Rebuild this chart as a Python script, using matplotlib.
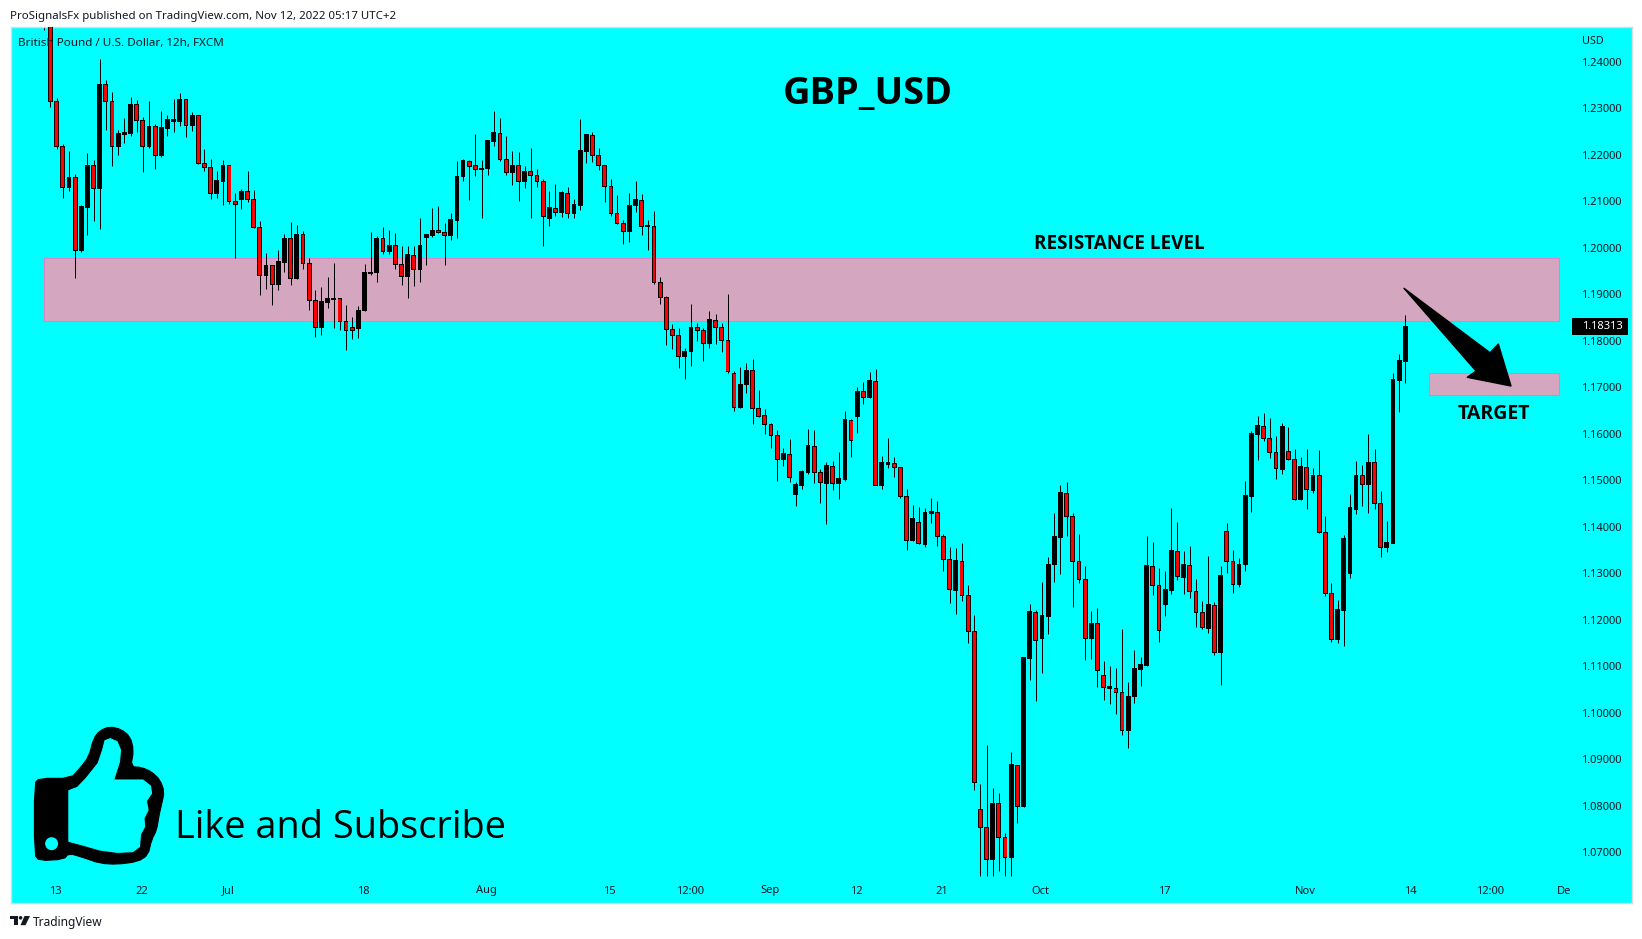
import numpy as np
import matplotlib
matplotlib.use('Agg')
import matplotlib.pyplot as plt
from matplotlib.patches import Polygon, Rectangle, Ellipse

# 12h candles
opens = [1.2600,1.2480,1.2315,1.2218,1.2129,1.2152,1.1994,1.2086,1.2176,1.2127,
1.2352,1.2315,1.2218,1.2243,1.2245,1.2309,1.2274,1.2217,1.2260,1.2198,
1.2256,1.2271,1.2271,1.2318,1.2262,1.2284,1.2182,1.2173,1.2117,1.2142,
1.2176,1.2100,1.2104,1.2122,1.2104,1.2044,1.1940,1.1961,1.1921,1.1968,
1.2021,1.1934,1.2028,1.1967,1.1887,1.1828,1.1882,1.1889,1.1890,1.1842,
1.1828,1.1826,1.1866,1.1944,1.1947,1.2020,1.1991,1.2005,1.1965,1.1938,
1.1984,1.1953,1.2022,1.2026,1.2038,1.2033,1.2026,1.2058,1.2153,1.2186,
1.2176,1.2168,1.2170,1.2228,1.2246,1.2190,1.2162,1.2177,1.2142,1.2165,
1.2156,1.2143,1.2064,1.2085,1.2075,1.2117,1.2073,1.2092,1.2208,1.2242,
1.2199,1.2177,1.2132,1.2074,1.2053,1.2034,1.2090,1.2102,1.2045,1.2046,
1.1926,1.1894,1.1825,1.1812,1.1766,1.1776,1.1829,1.1823,1.1794,1.1844,
1.1829,1.1801,1.1730,1.1656,1.1705,1.1737,1.1655,1.1640,1.1620,1.1597,
1.1544,1.1556,1.1469,1.1488,1.1516,1.1573,1.1517,1.1494,1.1530,1.1494,
1.1501,1.1629,1.1638,1.1691,1.1677,1.1713,1.1488,1.1535,1.1537,1.1528,
1.1466,1.1370,1.1410,1.1363,1.1428,1.1431,1.1379,1.1330,1.1264,1.1326,
1.1253,1.1175,1.0793,1.0754,1.0684,1.0806,1.0732,1.0689,1.0887,1.0798,
1.1116,1.1216,1.1159,1.1208,1.1318,1.1378,1.1472,1.1423,1.1326,1.1287,
1.1159,1.1192,1.1081,1.1052,1.1053,1.1044,1.0962,1.1034,1.1094,1.1101,
1.1315,1.1274,1.1232,1.1264,1.1347,1.1292,1.1317,1.1261,1.1216,1.1182,
1.1231,1.1129,1.1390,1.1326,1.1275,1.1318,1.1466,1.1598,1.1616,1.1590,
1.1560,1.1524,1.1562,1.1545,1.1458,1.1528,1.1479,1.1511,1.1388,1.1257,
1.1157,1.1221,1.1299,1.1438,1.1511,1.1490,1.1539,1.1451,1.1355,1.1365,
1.1714,1.1755]

highs = [1.2650,1.2600,1.2322,1.2223,1.2208,1.2159,1.2091,1.2203,1.2189,1.2405,
1.2361,1.2334,1.2253,1.2280,1.2324,1.2318,1.2281,1.2315,1.2266,1.2294,
1.2286,1.2320,1.2332,1.2319,1.2291,1.2286,1.2213,1.2191,1.2165,1.2189,
1.2178,1.2117,1.2126,1.2165,1.2124,1.2058,1.1989,1.1963,1.1995,1.2030,
1.2056,1.2049,1.2036,1.1978,1.1909,1.1916,1.1937,1.1967,1.1893,1.1877,
1.1851,1.1875,1.1965,1.2033,1.2025,1.2045,1.2038,1.2031,1.2004,1.2004,
1.2004,1.2064,1.2030,1.2086,1.2090,1.2053,1.2075,1.2187,1.2191,1.2189,
1.2245,1.2189,1.2230,1.2294,1.2279,1.2240,1.2208,1.2206,1.2176,1.2215,
1.2170,1.2148,1.2122,1.2137,1.2122,1.2131,1.2105,1.2277,1.2245,1.2249,
1.2215,1.2178,1.2148,1.2114,1.2060,1.2118,1.2144,1.2116,1.2060,1.2079,
1.1937,1.1896,1.1836,1.1828,1.1785,1.1879,1.1838,1.1827,1.1864,1.1858,
1.1838,1.1901,1.1735,1.1744,1.1752,1.1761,1.1694,1.1653,1.1623,1.1608,
1.1570,1.1589,1.1496,1.1522,1.1610,1.1608,1.1524,1.1539,1.1542,1.1561,
1.1649,1.1632,1.1701,1.1711,1.1733,1.1739,1.1552,1.1591,1.1550,1.1529,
1.1481,1.1447,1.1443,1.1441,1.1462,1.1456,1.1385,1.1357,1.1355,1.1365,
1.1275,1.1210,1.0847,1.0931,1.0838,1.0828,1.0742,1.0916,1.0888,1.1120,
1.1234,1.1221,1.1281,1.1335,1.1430,1.1490,1.1496,1.1430,1.1385,1.1316,
1.1219,1.1225,1.1112,1.1101,1.1096,1.1180,1.1066,1.1135,1.1120,1.1380,
1.1367,1.1311,1.1305,1.1440,1.1410,1.1348,1.1359,1.1288,1.1241,1.1337,
1.1238,1.1316,1.1408,1.1350,1.1333,1.1499,1.1605,1.1638,1.1645,1.1634,
1.1595,1.1623,1.1615,1.1567,1.1550,1.1567,1.1526,1.1565,1.1423,1.1279,
1.1243,1.1382,1.1471,1.1542,1.1533,1.1600,1.1567,1.1477,1.1413,1.1731,
1.1772,1.1855]

lows = [1.2469,1.2302,1.2213,1.2108,1.2123,1.1934,1.1990,1.2028,1.2058,1.2041,
1.2253,1.2175,1.2200,1.2225,1.2241,1.2249,1.2162,1.2215,1.2170,1.2195,
1.2241,1.2249,1.2261,1.2239,1.2252,1.2181,1.2165,1.2105,1.2108,1.2092,
1.2095,1.1977,1.2084,1.2098,1.2043,1.1899,1.1912,1.1876,1.1909,1.1949,
1.1920,1.1932,1.1954,1.1866,1.1808,1.1813,1.1871,1.1827,1.1823,1.1780,
1.1804,1.1807,1.1863,1.1942,1.1927,1.1987,1.1987,1.1955,1.1920,1.1891,
1.1917,1.1927,1.1962,1.2023,1.2031,1.1964,1.2017,1.2021,1.2144,1.2103,
1.2154,1.2063,1.2157,1.2219,1.2187,1.2157,1.2135,1.2101,1.2129,1.2064,
1.2131,1.2004,1.2047,1.2068,1.2066,1.2064,1.2064,1.2081,1.2182,1.2185,
1.2167,1.2099,1.2068,1.2051,1.2008,1.2013,1.2077,1.2028,1.1995,1.1922,
1.1879,1.1791,1.1782,1.1742,1.1718,1.1746,1.1800,1.1757,1.1785,1.1793,
1.1776,1.1731,1.1650,1.1656,1.1688,1.1621,1.1636,1.1600,1.1570,1.1499,
1.1531,1.1496,1.1445,1.1481,1.1514,1.1494,1.1451,1.1406,1.1479,1.1460,
1.1499,1.1550,1.1602,1.1664,1.1677,1.1489,1.1481,1.1527,1.1507,1.1462,
1.1350,1.1370,1.1364,1.1357,1.1408,1.1359,1.1305,1.1236,1.1213,1.1241,
1.1150,1.0834,1.0649,1.0649,1.0649,1.0660,1.0649,1.0649,1.0763,1.0798,
1.1071,1.1026,1.1086,1.1170,1.1281,1.1299,1.1380,1.1228,1.1279,1.1114,
1.1116,1.1056,1.1028,1.1019,1.0998,1.0952,1.0924,1.1021,1.1058,1.1101,
1.1253,1.1152,1.1208,1.1256,1.1286,1.1256,1.1247,1.1185,1.1180,1.1172,
1.1124,1.1060,1.1301,1.1258,1.1271,1.1305,1.1431,1.1544,1.1585,1.1548,
1.1503,1.1514,1.1544,1.1458,1.1458,1.1438,1.1473,1.1387,1.1251,1.1152,
1.1150,1.1144,1.1290,1.1428,1.1445,1.1430,1.1438,1.1335,1.1346,1.1365,
1.1647,1.1709]

closes = [1.2478,1.2315,1.2218,1.2129,1.2152,1.1994,1.2088,1.2176,1.2127,1.2352,
1.2314,1.2218,1.2245,1.2247,1.2309,1.2273,1.2218,1.2260,1.2198,1.2258,
1.2275,1.2275,1.2318,1.2263,1.2284,1.2181,1.2172,1.2117,1.2144,1.2176,
1.2099,1.2094,1.2122,1.2104,1.2043,1.1940,1.1961,1.1921,1.1970,1.2021,
1.1934,1.2028,1.1966,1.1886,1.1828,1.1884,1.1890,1.1890,1.1841,1.1822,
1.1822,1.1866,1.1946,1.1947,1.2021,1.1992,1.2006,1.1964,1.1938,1.1985,
1.1953,1.2004,1.2028,1.2038,1.2033,1.2026,1.2060,1.2154,1.2187,1.2175,
1.2168,1.2171,1.2230,1.2247,1.2190,1.2162,1.2178,1.2142,1.2165,1.2155,
1.2142,1.2067,1.2086,1.2076,1.2118,1.2073,1.2094,1.2210,1.2243,1.2198,
1.2177,1.2132,1.2073,1.2052,1.2035,1.2092,1.2103,1.2046,1.2047,1.1925,
1.1893,1.1824,1.1811,1.1766,1.1777,1.1829,1.1822,1.1794,1.1845,1.1828,
1.1800,1.1734,1.1656,1.1707,1.1737,1.1654,1.1638,1.1620,1.1596,1.1544,
1.1557,1.1506,1.1490,1.1518,1.1574,1.1516,1.1495,1.1531,1.1494,1.1503,
1.1630,1.1585,1.1692,1.1678,1.1714,1.1489,1.1539,1.1539,1.1527,1.1465,
1.1370,1.1417,1.1364,1.1430,1.1432,1.1379,1.1329,1.1265,1.1327,1.1252,
1.1175,1.0850,1.0753,1.0684,1.0806,1.0732,1.0689,1.0888,1.0798,1.1118,
1.1217,1.1155,1.1210,1.1320,1.1380,1.1473,1.1422,1.1325,1.1286,1.1160,
1.1193,1.1091,1.1054,1.1056,1.1043,1.0962,1.1036,1.1096,1.1103,1.1316,
1.1273,1.1177,1.1266,1.1348,1.1293,1.1318,1.1261,1.1215,1.1183,1.1232,
1.1129,1.1296,1.1325,1.1276,1.1320,1.1468,1.1600,1.1617,1.1590,1.1560,
1.1525,1.1615,1.1544,1.1458,1.1529,1.1480,1.1511,1.1387,1.1256,1.1157,
1.1223,1.1374,1.1441,1.1511,1.1491,1.1539,1.1450,1.1355,1.1367,1.1716,
1.1757,1.18313]

price_ticks = [1.07,1.08,1.09,1.10,1.11,1.12,1.13,1.14,1.15,1.16,1.17,1.18,1.19,1.20,1.21,1.22,1.23,1.24]
date_pos = [1.8,15.8,29.8,51.8,71.8,91.8,104.8,117.8,131.8,145.8,161.8,181.8,204.8,221.8,234.8,246.8]
date_labels = ['13','22','Jul','18','Aug','15','12:00','Sep','12','21','Oct','17','Nov','14','12:00','De']
bold_dates = ['Jul','Aug','Sep','Oct','Nov','De']

# drawn zones: left bar, right bar, low price, high price
resistance = [-0.05, 246.0, 1.1843, 1.1978]
target = [224.9, 246.0, 1.1684, 1.1730]
last_price = 1.18313

W, H = 1642, 939
INK = '#131722'
ZONE_FILL = '#d5a6bf'
ZONE_EDGE = '#dc85c6'
TEXT_FONT = ['Open Sans', 'DejaVu Sans']
LABEL_FONT = ['Noto Sans', 'DejaVu Sans']


def fx(x):
    return x / W


def fy(y):
    return 1 - y / H


def fpts(pts):
    return [(fx(x), fy(y)) for x, y in pts]


def rounded(pts, n=2):
    # corner cutting, the icon has no hard corners
    for _ in range(n):
        new = []
        for i in range(len(pts)):
            a, b = pts[i], pts[(i + 1) % len(pts)]
            new.append((0.75 * a[0] + 0.25 * b[0], 0.75 * a[1] + 0.25 * b[1]))
            new.append((0.25 * a[0] + 0.75 * b[0], 0.25 * a[1] + 0.75 * b[1]))
        pts = new
    return pts


fig = plt.figure(figsize=(W / 100, H / 100), dpi=100, facecolor='white')
ax = fig.add_axes([fx(10.5), fy(903), (1632 - 10.5) / W, (903 - 27) / H])
ax.set_facecolor('#00ffff')
ax.set_xlim(-5.49, 257.8)
ax.set_ylim(1.05910, 1.24748)
for s in ax.spines.values():
    s.set_color('#d6dde0')
    s.set_linewidth(1)

# zones under the candles
for z in (resistance, target):
    ax.add_patch(Rectangle((z[0], z[2]), z[1] - z[0], z[3] - z[2], facecolor=ZONE_FILL,
                           edgecolor=ZONE_EDGE, linewidth=0.8, zorder=1))

# candles: black outline bar, red fill inset one pixel on the down candles
o = np.array(opens)
c = np.array(closes)
x = np.arange(len(o))
body_low = np.minimum(o, c)
body_h = np.abs(c - o)
one_px = (1.24748 - 1.05910) / 876
ax.vlines(x, lows, highs, color='black', linewidth=0.72, zorder=2)
ax.bar(x, body_h + one_px, bottom=body_low - one_px / 2, width=0.78, color='black', linewidth=0,
       zorder=3)
down = c < o
ax.bar(x[down], np.maximum(body_h[down] - one_px, one_px * 0.6),
       bottom=body_low[down] + one_px / 2, width=0.47, color='#ff0000', linewidth=0, zorder=4)

# axes labels sit inside the cyan panel
ax.yaxis.tick_right()
ax.set_yticks(price_ticks)
ax.set_yticklabels(['%.5f' % p for p in price_ticks])
ax.tick_params(axis='y', length=0, pad=-36.7, labelsize=8, labelcolor=INK)
ax.set_xticks(date_pos)
ax.set_xticklabels(date_labels)
ax.tick_params(axis='x', length=0, pad=-12.6, labelsize=8, labelcolor=INK)
for t in ax.get_yticklabels():
    t.set_family(LABEL_FONT)
for t in ax.get_xticklabels():
    t.set_family(LABEL_FONT)
    if t.get_text() in bold_dates:
        t.set_fontweight('bold')

# last price tag
fig.patches.append(Rectangle((fx(1572), fy(334.7)), 56 / W, 16.4 / H, transform=fig.transFigure,
                             facecolor='black', edgecolor='none', zorder=5))
fig.text(fx(1582), fy(326.5), '%.5f' % last_price, color='white', fontsize=8, va='center',
         family=LABEL_FONT, zorder=6)

# header, footer, chart captions
fig.text(fx(10), fy(16), 'ProSignalsFx published on TradingView.com, Nov 12, 2022 05:17 UTC+2',
         fontsize=8.25, color=INK, va='center', family=LABEL_FONT)
fig.text(fx(18), fy(43.5), 'British Pound / U.S. Dollar, 12h, FXCM', fontsize=8.4, color=INK,
         va='center', family=LABEL_FONT, zorder=6)
fig.text(fx(1582), fy(42), 'USD', fontsize=7.8, color=INK, va='center', family=LABEL_FONT, zorder=6)
fig.text(fx(33), fy(922.5), 'TradingView', fontsize=8.6, color=INK, va='center', family=LABEL_FONT)
fig.text(fx(868), fy(94), 'GBP_USD', fontsize=27.3, fontweight='bold', color='black', ha='center',
         va='center', family=TEXT_FONT, zorder=6)
fig.text(fx(1119), fy(244), 'RESISTANCE LEVEL', fontsize=13.6, fontweight='bold', color='black',
         ha='center', va='center', family=TEXT_FONT, zorder=6)
fig.text(fx(1494), fy(414), 'TARGET', fontsize=14, fontweight='bold', color='black', ha='center',
         va='center', family=TEXT_FONT, zorder=6)
fig.text(fx(340), fy(828), 'Like and Subscribe', fontsize=27.3, color='black', ha='center',
         va='center', family=TEXT_FONT, zorder=6)

# arrow down to the target
arrow = [(1404, 288.3), (1490, 352.7), (1498.3, 344), (1511, 386), (1467.3, 377.3), (1476, 371)]
fig.patches.append(Polygon(fpts(arrow), closed=True, transform=fig.transFigure, facecolor='black',
                           edgecolor='black', linewidth=1, joinstyle='round', zorder=6))

# thumbs up icon
outer = [(205,235),(232,205),(258,170),(272,115),(290,92),(318,80),(352,88),(378,110),(388,150),
         (380,200),(410,202),(440,215),(465,240),(477,275),(470,310),(462,345),(455,390),(440,420),
         (430,465),(400,485),(340,493),(290,490),(240,472),(200,460),(185,478),(115,482),(100,465),
         (100,250),(115,235)]
inner = [(200,272),(225,262),(250,235),(285,190),(298,150),(305,122),(320,116),(340,125),(350,150),
         (347,185),(330,240),(415,240),(437,258),(440,280),(425,303),(430,330),(418,355),(420,380),
         (408,403),(405,440),(385,455),(340,457),(290,450),(240,435),(200,424),(200,350)]
for pts, col, z in ((outer, 'black', 6), (inner, '#00ffff', 7)):
    shape = [(a / 2.904, 700 + b / 3) for a, b in pts]
    if col == 'black':
        shape = rounded(shape, 1)
    fig.patches.append(Polygon(fpts(shape), closed=True, transform=fig.transFigure, facecolor=col,
                               edgecolor=col, linewidth=0.8, joinstyle='round', zorder=z))
fig.patches.append(Ellipse((fx(51.6), fy(843.7)), 13 / W, 13 / H, transform=fig.transFigure,
                           facecolor='#00ffff', edgecolor='none', zorder=8))

# TradingView logo
logo = [[(10, 916), (17.7, 916), (17.7, 925.2), (14, 925.2), (14, 919.4), (10, 919.4)],
        [(24.5, 916), (30, 916), (25.5, 925.2), (20.5, 925.2)]]
for pts in logo:
    fig.patches.append(Polygon(fpts(pts), closed=True, transform=fig.transFigure, facecolor=INK,
                               edgecolor='none'))
fig.patches.append(Ellipse((fx(20.6), fy(917.8)), 3.6 / W, 3.6 / H, transform=fig.transFigure,
                           facecolor=INK, edgecolor='none'))

fig.savefig('out.png', dpi=100, facecolor='white')
